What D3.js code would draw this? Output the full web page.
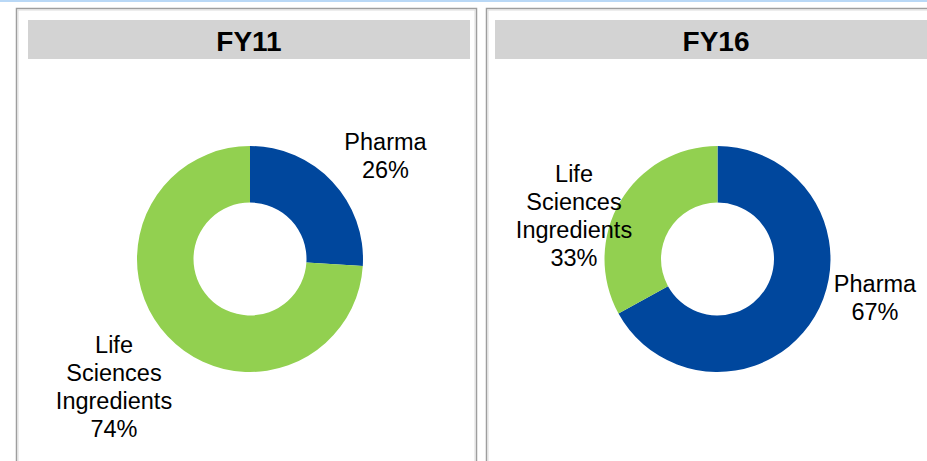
<!DOCTYPE html>
<html>
<head>
<meta charset="utf-8">
<script src="https://cdn.jsdelivr.net/npm/d3@7"></script>
<style>
  body { margin: 0; background: #fff; }
  svg { display: block; font-family: 'Liberation Sans', Arial, sans-serif; }
</style>
</head>
<body>
<svg id="chart" width="927" height="461"></svg>
<script>
// data
const periods = ['FY11', 'FY16'];
const segments = ['Pharma', 'Life Sciences Ingredients'];
const fy11Values = [26, 74];
const fy16Values = [67, 33];
const segmentLines = [['Pharma'], ['Life', 'Sciences', 'Ingredients']];

const colors = d3.scaleOrdinal().domain(segments).range(['#00479d', '#92d050']);

// layout
const panels = [
  { x: 16, bar: [28, 442], cx: 250, values: fy11Values,
    labelOffsets: [[135.5, -109], [-136, 94]] },
  { x: 486, bar: [495, 442], cx: 717.5, values: fy16Values,
    labelOffsets: [[157.5, 33], [-143.5, -77]] }
];
const cy = 259;
const outerR = 113;
const innerR = 56.5;
const lineH = 28;

const svg = d3.select('#chart');

// thin blue rule across the top
svg.append('rect')
  .attr('x', 0).attr('y', 0)
  .attr('width', 927).attr('height', 2)
  .attr('fill', '#b9d8f6');

const pie = d3.pie().sort(null).value(d => d.value);
const arc = d3.arc().innerRadius(innerR).outerRadius(outerR);

panels.forEach((p, i) => {
  const g = svg.append('g');

  // panel frame
  g.append('rect')
    .attr('x', p.x + 0.5).attr('y', 8.5)
    .attr('width', 460).attr('height', 500)
    .attr('fill', 'none')
    .attr('stroke', '#9e9e9e')
    .attr('stroke-width', 1.5);
  g.append('rect')
    .attr('x', p.x + 2).attr('y', 10)
    .attr('width', 457).attr('height', 500)
    .attr('fill', 'none')
    .attr('stroke', '#dcdcdc')
    .attr('stroke-width', 1);

  // title bar
  g.append('rect')
    .attr('x', p.bar[0]).attr('y', 20)
    .attr('width', p.bar[1]).attr('height', 39)
    .attr('fill', '#d3d3d3');
  g.append('text')
    .attr('x', p.bar[0] + p.bar[1] / 2)
    .attr('y', 51)
    .attr('text-anchor', 'middle')
    .attr('font-size', 28)
    .attr('font-weight', 'bold')
    .attr('fill', '#000')
    .text(periods[i]);

  // donut
  const data = segments.map((s, k) => ({ name: s, value: p.values[k], idx: k }));
  const donut = g.append('g').attr('transform', `translate(${p.cx},${cy})`);
  donut.selectAll('path')
    .data(pie(data))
    .join('path')
    .attr('d', arc)
    .attr('fill', d => colors(d.data.name));

  // labels
  data.forEach((d, k) => {
    const [dx, dy] = p.labelOffsets[k];
    const lines = segmentLines[k].concat([`${d.value}%`]);
    const t = donut.append('text')
      .attr('text-anchor', 'middle')
      .attr('font-size', 23.5)
      .attr('fill', '#000');
    lines.forEach((ln, j) => {
      t.append('tspan')
        .attr('x', dx)
        .attr('y', dy + j * lineH)
        .text(ln);
    });
  });
});
</script>
</body>
</html>
